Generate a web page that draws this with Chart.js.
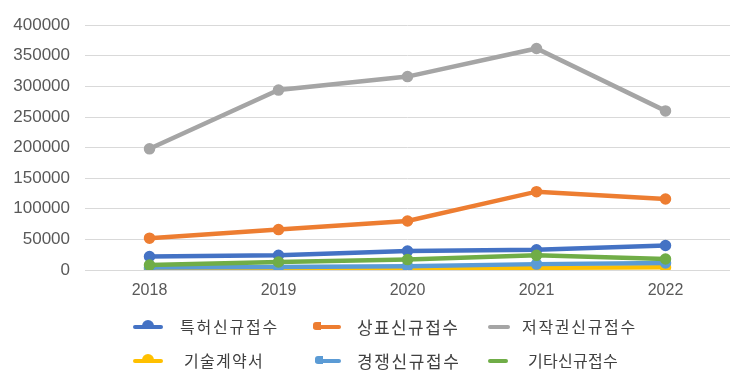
<!DOCTYPE html>
<html>
<head>
<meta charset="utf-8">
<script src="https://cdn.jsdelivr.net/npm/chart.js@4"></script>
<style>
  html, body { margin: 0; padding: 0; background: #fff; }
  #wrap { position: relative; width: 740px; height: 384px; }
  #chart { position: absolute; left: 0; top: 0; }
  .item { position: absolute; font-family: "Noto Sans CJK KR", sans-serif; color: #404040; white-space: nowrap; line-height: 1; }
  .icon { position: absolute; height: 4px; border-radius: 2px; }
  .bump { position: absolute; width: 12px; height: 6px; border-radius: 6px 6px 0 0; }
  .step { position: absolute; width: 8px; height: 8px; border-radius: 3px 0 0 3px; }
</style>
</head>
<body>
<div id="wrap">
  <canvas id="chart" width="740" height="384"></canvas>
  <div id="legend"></div>
</div>
<script>
const years = ["2018", "2019", "2020", "2021", "2022"]
const yTicks = [0, 50000, 100000, 150000, 200000, 250000, 300000, 350000, 400000]

// series values
const patentNew = [22000, 24000, 31000, 33000, 40000]
const trademarkNew = [52000, 66000, 80000, 128000, 116000]
const copyrightNew = [198000, 294000, 316000, 362000, 260000]
const techContract = [1000, 1500, 2000, 3500, 4500]
const competitionNew = [4000, 5000, 6000, 9600, 11500]
const otherNew = [8000, 13000, 17000, 24000, 18000]

const seriesNames = ["특허신규접수", "상표신규접수", "저작권신규접수", "기술계약서", "경쟁신규접수", "기타신규접수"]
const seriesData = [patentNew, trademarkNew, copyrightNew, techContract, competitionNew, otherNew]
const colors = ["#4472C4", "#ED7D31", "#A5A5A5", "#FFC000", "#5B9BD5", "#70AD47"]

const ctx = document.getElementById("chart").getContext("2d")

new Chart(ctx, {
  type: "line",
  data: {
    labels: years,
    datasets: seriesNames.map((name, i) => ({
      label: name,
      data: seriesData[i],
      borderColor: colors[i],
      backgroundColor: colors[i],
      pointBackgroundColor: colors[i],
      pointBorderColor: colors[i],
      borderWidth: 4.5,
      pointRadius: 3.5,
      tension: 0,
      order: seriesNames.length - i,
    })),
  },
  options: {
    responsive: false,
    animation: false,
    layout: {
      padding: { left: 0, right: 10, top: 22, bottom: 0 },
    },
    plugins: {
      legend: { display: false },
      tooltip: { enabled: false },
    },
    scales: {
      x: {
        offset: true,
        grid: { display: false },
        border: { display: false },
        ticks: {
          padding: 3,
          color: "#595959",
          font: { size: 16, family: "'Liberation Sans', Arial, sans-serif" },
        },
        afterFit: (scale) => { scale.height = 114 },
      },
      y: {
        min: 0,
        max: 400000,
        afterBuildTicks: (scale) => { scale.ticks = yTicks.map((v) => ({ value: v })) },
        grid: { color: "#d9d9d9", lineWidth: 1, drawTicks: false },
        border: { display: false },
        ticks: {
          padding: 15,
          color: "#595959",
          font: { size: 17, family: "'Liberation Sans', Arial, sans-serif" },
          callback: (v) => String(v),
        },
        afterFit: (scale) => { scale.width = 85 },
      },
    },
  },
})

// legend built by hand so it sits in the same 3x2 grid as the reference
const legendPos = [
  { ix: 133, iw: 30, tx: 180, y: 327, size: 16, ls: 1.8, mark: "bump" },
  { ix: 313, iw: 28, tx: 357, y: 327, size: 17, ls: 1.4, mark: "step" },
  { ix: 488, iw: 22, tx: 522, y: 327, size: 16, ls: 1.7, mark: "" },
  { ix: 133, iw: 30, tx: 184, y: 361, size: 16, ls: 1.3, mark: "bump" },
  { ix: 315, iw: 26, tx: 357, y: 361, size: 17, ls: 1.6, mark: "step" },
  { ix: 488, iw: 20, tx: 528, y: 361, size: 16, ls: 0.3, mark: "" },
]

const legend = document.getElementById("legend")
seriesNames.forEach((name, i) => {
  const p = legendPos[i]
  const line = document.createElement("div")
  line.className = "icon"
  line.style.left = p.ix + "px"
  line.style.top = (p.y - 2) + "px"
  line.style.width = p.iw + "px"
  line.style.background = colors[i]
  legend.appendChild(line)
  if (p.mark === "bump") {
    const b = document.createElement("div")
    b.className = "bump"
    b.style.left = (p.ix + p.iw / 2 - 6) + "px"
    b.style.top = (p.y - 7) + "px"
    b.style.background = colors[i]
    legend.appendChild(b)
  } else if (p.mark === "step") {
    const s = document.createElement("div")
    s.className = "step"
    s.style.left = p.ix + "px"
    s.style.top = (p.y - 5) + "px"
    s.style.background = colors[i]
    legend.appendChild(s)
  }
  const t = document.createElement("div")
  t.className = "item"
  t.textContent = name
  t.style.left = p.tx + "px"
  t.style.top = (p.y - p.size / 2 - 1) + "px"
  t.style.fontSize = p.size + "px"
  t.style.letterSpacing = p.ls + "px"
  legend.appendChild(t)
})
</script>
</body>
</html>
